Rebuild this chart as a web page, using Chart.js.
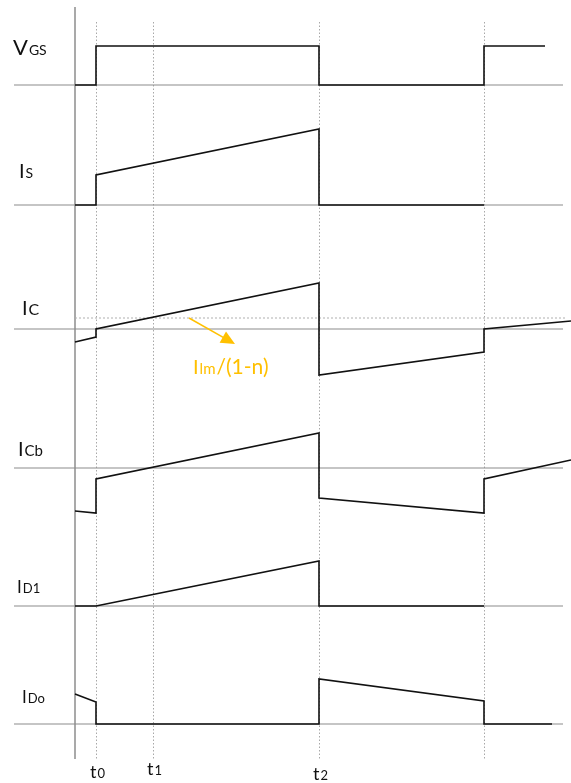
<!DOCTYPE html>
<html>
<head>
<meta charset="utf-8">
<script src="https://cdn.jsdelivr.net/npm/chart.js@4.4.1/dist/chart.umd.min.js"></script>
<style>
  html, body { margin: 0; padding: 0; background: #fff; }
  #wrap { width: 571px; height: 783px; position: relative; }
</style>
</head>
<body>
<div id="wrap"><canvas id="myChart"></canvas></div>
<script>
// switching instants (time axis origin = 0)
const t0 = 21, t1 = 78, t2 = 244, t3 = 409;
const timeMarks = [t0, t1, t2, t3];
const timeNames = [['t', '0'], ['t', '1'], ['t', '2']];

// waveforms: time points and values relative to each trace's zero line
const vgsT = [0, t0, t0, t2, t2, t3, t3, 470];
const vgsV = [0, 0, 39, 39, 0, 0, 39, 39];
const isT = [0, t0, t0, t2, t2, t3];
const isV = [0, 0, 30, 76, 0, 0];
const icT = [0, t0, t0, t2, t2, t3, t3, 496];
const icV = [-13, -8, 0, 46, -46, -23, 0, 8];
const icbT = [0, t0, t0, t2, t2, t3, t3, 496];
const icbV = [-43, -45, -11, 35, -30, -45, -11, 8];
const id1T = [0, t0, t2, t2, t3];
const id1V = [0, 0, 45, 0, 0];
const idoT = [0, t0, t0, t2, t2, t3, t3, 477];
const idoV = [30, 22, 0, 0, 45, 23, 0, 0];

const ilmLevel = 11;          // Ilm/(1-n) level on the IC trace
const ilmSpan = [0, 492];
const zeroSpan = [-61, 488];  // extent of the zero lines

const traces = [
  { id: 'yVgs', name: ['V', 'GS'], t: vgsT, v: vgsV, min: -60, max: 85 },
  { id: 'yIs',  name: ['I', 'S'],  t: isT,  v: isV,  min: -62, max: 60 },
  { id: 'yIc',  name: ['I', 'C'],  t: icT,  v: icV,  min: -69, max: 62 },
  { id: 'yIcb', name: ['I', 'Cb'], t: icbT, v: icbV, min: -69, max: 70 },
  { id: 'yId1', name: ['I', 'D1'], t: id1T, v: id1V, min: -59, max: 69 },
  { id: 'yIdo', name: ['I', 'Do'], t: idoT, v: idoV, min: -59, max: 59 }
];

// label placement / fonts per trace
const labelStyle = [
  { x: -62, y: 30, big: 22, small: 14 },
  { x: -56, y: 27, big: 20, small: 14 },
  { x: -53, y: 14, big: 20, small: 16 },
  { x: -57, y: 12, big: 20, small: 15 },
  { x: -58, y: 13, big: 17, small: 13 },
  { x: -53, y: 21, big: 17, small: 13 }
];

const FONT = 'Lato, "Open Sans", sans-serif';

const datasets = [];
const scales = {
  x: { type: 'linear', min: -75, max: 496, display: false }
};

// left stacked axes are laid out bottom-up, so add them in reverse
traces.slice().reverse().forEach(tr => {
  scales[tr.id] = {
    type: 'linear', position: 'left', stack: 'traces',
    stackWeight: tr.max - tr.min, min: tr.min, max: tr.max, display: false
  };
});

traces.forEach(tr => {
  datasets.push({
    data: zeroSpan.map(t => ({ x: t, y: 0 })),
    yAxisID: tr.id, borderColor: '#8c8c8c', borderWidth: 1.2,
    pointRadius: 0, order: 2, clip: false
  });
  datasets.push({
    data: tr.t.map((t, i) => ({ x: t, y: tr.v[i] })),
    yAxisID: tr.id, borderColor: '#111', borderWidth: 1.6,
    pointRadius: 0, order: 1, clip: false
  });
});

datasets.push({
  data: ilmSpan.map(t => ({ x: t, y: ilmLevel })),
  yAxisID: 'yIc', borderColor: '#b0b0b0', borderWidth: 1,
  borderDash: [2, 2], pointRadius: 0, order: 3, clip: false
});

function drawSub(ctx, x, y, big, small, bigSize, smallSize, color) {
  ctx.fillStyle = color;
  ctx.textBaseline = 'alphabetic';
  ctx.textAlign = 'left';
  ctx.font = bigSize + 'px ' + FONT;
  ctx.fillText(big, x, y);
  const w = ctx.measureText(big).width;
  ctx.font = smallSize + 'px ' + FONT;
  ctx.fillText(small, x + w + 1, y);
  return x + w + 1 + ctx.measureText(small).width;
}

const decor = {
  id: 'decor',
  beforeDatasetsDraw(chart) {
    const ctx = chart.ctx, xs = chart.scales.x;
    ctx.save();
    // time axis
    ctx.strokeStyle = '#8c8c8c';
    ctx.lineWidth = 1.5;
    ctx.beginPath();
    ctx.moveTo(xs.getPixelForValue(0), 7);
    ctx.lineTo(xs.getPixelForValue(0), 759);
    ctx.stroke();
    // dotted instants
    ctx.strokeStyle = '#a8a8a8';
    ctx.lineWidth = 1;
    ctx.setLineDash([1.5, 2]);
    timeMarks.forEach(t => {
      const px = Math.round(xs.getPixelForValue(t)) + 0.5;
      ctx.beginPath();
      ctx.moveTo(px, 22);
      ctx.lineTo(px, 759);
      ctx.stroke();
    });
    ctx.restore();
  },
  afterDatasetsDraw(chart) {
    const ctx = chart.ctx, xs = chart.scales.x;
    ctx.save();
    traces.forEach((tr, i) => {
      const st = labelStyle[i];
      const ys = chart.scales[tr.id];
      drawSub(ctx, xs.getPixelForValue(st.x), ys.getPixelForValue(st.y),
        tr.name[0], tr.name[1], st.big, st.small, '#111');
    });
    // time labels
    const tBase = [778, 775, 780];
    timeNames.forEach((n, i) => {
      const px = xs.getPixelForValue(timeMarks[i]) - 6;
      drawSub(ctx, px, tBase[i], n[0], n[1], 18, 13, '#111');
    });
    // Ilm/(1-n) annotation
    const yc = chart.scales.yIc;
    const ax = xs.getPixelForValue(114), ay = yc.getPixelForValue(ilmLevel);
    const bx = xs.getPixelForValue(160), by = yc.getPixelForValue(-15);
    const ang = Math.atan2(by - ay, bx - ax);
    ctx.strokeStyle = '#ffc000';
    ctx.fillStyle = '#ffc000';
    ctx.lineWidth = 1.5;
    ctx.beginPath();
    ctx.moveTo(ax, ay);
    ctx.lineTo(bx - 10 * Math.cos(ang), by - 10 * Math.sin(ang));
    ctx.stroke();
    ctx.beginPath();
    ctx.moveTo(bx, by);
    ctx.lineTo(bx - 14 * Math.cos(ang) + 6.5 * Math.sin(ang), by - 14 * Math.sin(ang) - 6.5 * Math.cos(ang));
    ctx.lineTo(bx - 14 * Math.cos(ang) - 6.5 * Math.sin(ang), by - 14 * Math.sin(ang) + 6.5 * Math.cos(ang));
    ctx.closePath();
    ctx.fill();
    const tx = xs.getPixelForValue(118), ty = yc.getPixelForValue(-45);
    const end = drawSub(ctx, tx, ty, 'I', 'lm', 20, 15, '#ffc000');
    ctx.font = '21px ' + FONT;
    ctx.fillText('/(1-n)', end + 1, ty);
    ctx.restore();
  }
};

new Chart(document.getElementById('myChart').getContext('2d'), {
  type: 'line',
  data: { datasets },
  options: {
    responsive: true,
    maintainAspectRatio: false,
    animation: false,
    layout: { padding: 0 },
    plugins: { legend: { display: false }, tooltip: { enabled: false } },
    elements: { line: { tension: 0, borderJoinStyle: 'miter' } },
    scales
  },
  plugins: [decor]
});
</script>
</body>
</html>
